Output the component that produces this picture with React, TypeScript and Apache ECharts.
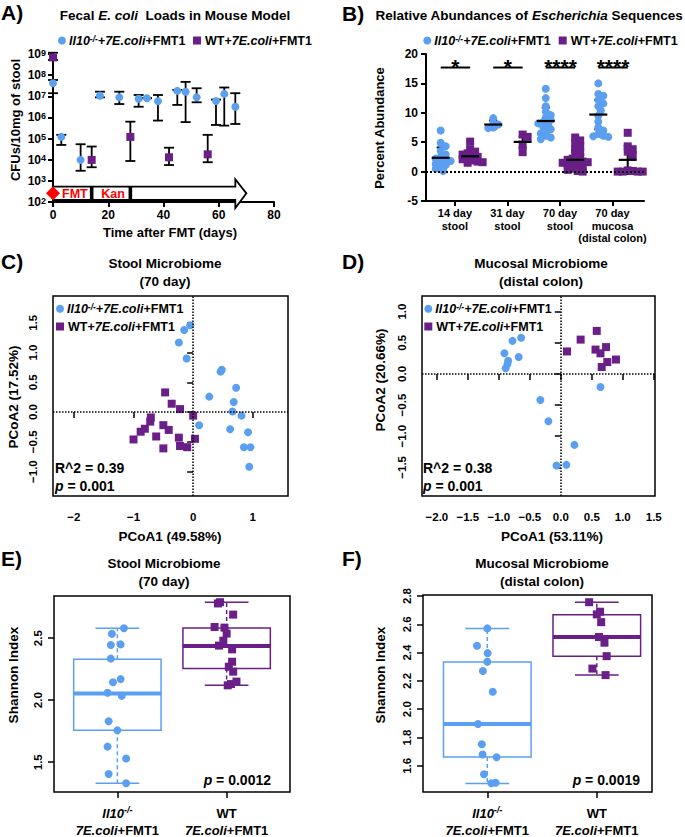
import React, { useEffect, useRef } from 'react';
import * as echarts from 'echarts';

const FONT = '"Liberation Sans", Arial, Helvetica, sans-serif';
const BLUE = '#5b9ff0';
const PURPLE = '#6a1f88';

// ---------- Panel A: fecal E. coli loads (CFU / 10 mg stool) ----------
const aBlueDays = [0, 3, 10, 17, 24, 31, 34, 38, 45, 48, 52, 59, 62, 66];
const aBlueCFU = [4.1e7, 1.2e5, 9.8e3, 1.07e7, 8.9e6, 7.7e6, 8.1e6, 5.8e6, 1.8e7, 1.65e7, 8.9e6, 6.0e6, 1.3e7, 3.2e6];
const aBlueLow = [1.4e7, 5.0e4, 3.0e3, 8.9e6, 4.3e6, 3.2e6, 8.1e6, 7.1e5, 3.9e6, 6.0e5, 5.2e6, 4.4e5, 4.1e5, 4.9e5];
const aBlueHigh = [5.9e7, 1.5e5, 5.4e4, 1.65e7, 1.65e7, 1.15e7, 8.1e6, 1.15e7, 2.0e7, 4.8e7, 2.4e7, 7.0e6, 2.6e7, 1.4e7];
const aPurpleDays = [0, 14, 28, 42, 56];
const aPurpleCFU = [6.9e8, 9.8e3, 1.2e5, 1.3e4, 1.8e4];
const aPurpleLow = [5.2e8, 4.4e3, 8.7e3, 5.6e3, 7.6e3];
const aPurpleHigh = [1.15e9, 4.2e4, 6.3e5, 3.7e4, 1.5e5];
const aFmtDay = 0;
const aKanDays = [14, 28];
const aArrowHeadDay = 66;
const aArrowEndDay = 70;

// ---------- Panel B: relative abundance of Escherichia (%) ----------
const bCategories = ['14 day\nstool', '31 day\nstool', '70 day\nstool', '70 day\nmucosa\n(distal colon)'];
const bBlue = [
  [7.0, 4.9, 4.3, 3.5, 2.9, 2.5, 2.2, 2.0, 1.8, 1.6, 1.3, 1.1, 0.8, 0.5, 0.1],
  [9.1, 8.3, 8.0, 7.5, 7.4],
  [14.1, 12.5, 11.1, 10.2, 9.6, 9.2, 8.8, 8.5, 8.2, 7.9, 7.6, 7.2, 6.9, 6.5, 6.1, 5.8, 5.5],
  [15.0, 13.2, 12.9, 12.2, 11.6, 11.1, 10.4, 9.5, 8.5, 7.5, 7.0, 6.4, 6.1, 6.0, 5.9],
];
const bPurple = [
  [5.1, 3.8, 3.4, 3.1, 2.9, 2.7, 2.5, 2.3, 2.1, 1.9, 1.7, 1.6, 1.5],
  [6.3, 5.9, 4.6, 3.3],
  [5.8, 5.3, 4.8, 4.3, 3.8, 3.3, 2.9, 2.5, 2.2, 2.0, 1.8, 1.6, 1.4, 1.2, 1.0, 0.8, 0.5, 0.3, 0.1, 0.0, 1.5, 1.7],
  [6.6, 4.3, 3.8, 3.4, 2.8, 0.2, 0.1, 0.0, 0.0, 0.0, 0.0],
];
const bBlueMean = [2.35, 8.0, 8.6, 9.7];
const bBlueSD = [1.75, 0.7, 2.3, 2.5];
const bPurpleMean = [2.6, 5.05, 2.0, 2.0];
const bPurpleSD = [1.1, 0.95, 1.7, 2.4];
const bStars = ['*', '*', '****', '****'];
const bStarLevel = 17.7;

// ---------- Panel C: stool PCoA ----------
const cBlue = [
  [-0.05, 1.46], [-0.15, 1.38], [-0.24, 1.17], [-0.11, 0.9], [0.46, 0.68], [0.48, 0.71],
  [0.27, 0.26], [0.72, 0.41], [0.68, 0.17], [0.66, 0.01], [0.81, -0.06], [0.1, -0.22],
  [0.62, -0.29], [0.92, -0.34], [0.85, -0.59], [0.96, -0.59], [0.94, -0.92],
];
const cPurple = [
  [-0.47, 0.33], [-0.36, 0.14], [-0.22, 0.05], [0.0, -0.06], [-0.71, -0.09], [-0.72, -0.16],
  [-0.81, -0.28], [-0.5, -0.22], [-0.41, -0.3], [-0.88, -0.33], [-1.0, -0.46], [-0.62, -0.41],
  [-0.24, -0.43], [0.03, -0.45], [-0.22, -0.57], [-0.1, -0.59], [-0.5, -0.61],
];

// ---------- Panel D: mucosal PCoA ----------
const dBlue = [
  [-0.78, 0.53], [-0.64, 0.58], [-0.91, 0.33], [-0.68, 0.27], [-0.85, 0.21], [-0.86, 0.16],
  [-0.89, 0.09], [0.64, -0.21], [-0.33, -0.42], [-0.2, -0.76], [0.22, -1.14], [0.09, -1.46], [-0.07, -1.47],
];
const dPurple = [
  [0.58, 0.69], [0.32, 0.55], [0.1, 0.36], [0.56, 0.39], [0.73, 0.43], [0.64, 0.33],
  [0.89, 0.23], [0.75, 0.19], [0.66, 0.11],
];

// ---------- Panel E: stool Shannon index ----------
const eBlue = [
  [1.06, 2.58], [0.95, 2.535], [0.94, 2.445], [1.03, 2.45], [0.94, 2.335], [1.03, 2.17], [0.96, 2.145],
  [0.91, 2.06], [1.04, 2.035], [0.92, 1.83], [1.0, 1.757], [0.91, 1.626], [1.08, 1.53], [0.92, 1.405], [1.08, 1.33],
];
const ePurple = [
  [1.92, 2.78], [1.94, 2.79], [2.06, 2.69], [1.89, 2.59], [1.98, 2.585], [2.0, 2.537], [1.97, 2.48],
  [1.93, 2.44], [2.05, 2.41], [2.05, 2.31], [2.02, 2.27], [2.06, 2.23], [2.09, 2.15], [2.01, 2.12], [2.04, 2.13],
];
const eBlueStats = [1.33, 1.757, 2.055, 2.33, 2.58];
const ePurpleStats = [2.12, 2.256, 2.437, 2.582, 2.79];

// ---------- Panel F: mucosal Shannon index ----------
const fBlue = [
  [1.0, 2.571], [0.906, 2.448], [1.003, 2.396], [1.0, 2.335], [0.96, 2.27], [1.05, 2.123], [0.915, 1.895],
  [0.95, 1.752], [0.957, 1.68], [1.085, 1.66], [0.97, 1.54], [1.037, 1.477], [1.076, 1.48],
];
const fPurple = [
  [1.93, 2.756], [2.03, 2.689], [2.0, 2.67], [2.04, 2.615], [2.02, 2.51], [2.07, 2.47], [2.09, 2.375],
  [1.96, 2.287], [2.08, 2.241],
];
const fBlueStats = [1.475, 1.663, 1.895, 2.334, 2.571];
const fPurpleStats = [2.241, 2.375, 2.511, 2.668, 2.756];

// ---------- helpers ----------
const B_OFF_BLUE = -0.27;
const B_OFF_PURPLE = 0.29;
const B_PX_X = 218 / 4.15;
const B_PX_Y = 147 / 25;

function swarm(values: number[], center: number, step: number, minDist: number): number[][] {
  const placed: { dx: number; py: number; v: number }[] = [];
  const sorted = [...values].sort((a, b) => b - a);
  for (const v of sorted) {
    const py = v * B_PX_Y;
    for (let k = 0; k < 80; k++) {
      const dx = (k % 2 === 1 ? 1 : -1) * Math.ceil(k / 2) * step;
      if (placed.every((p) => Math.hypot(p.dx - dx, p.py - py) >= minDist)) {
        placed.push({ dx, py, v });
        break;
      }
    }
  }
  return placed.map((p) => [center + p.dx / B_PX_X, p.v]);
}

const minus = (s: string) => s.replace('-', '\u2212');

const richSet = (size: number) => ({
  b: { fontFamily: FONT, fontWeight: 'bold', fontSize: size, fill: '#000', color: '#000' },
  i: { fontFamily: FONT, fontWeight: 'bold', fontStyle: 'italic', fontSize: size, fill: '#000', color: '#000' },
  s: { fontFamily: FONT, fontWeight: 'bold', fontStyle: 'italic', fontSize: size * 0.68, fill: '#000', color: '#000', verticalAlign: 'top' },
});

const txt = (x: number, y: number, text: string, size: number, o: any = {}) => ({
  type: 'text',
  x,
  y,
  rotation: o.rot || 0,
  z: 100,
  style: {
    text,
    fontFamily: FONT,
    fontWeight: 'bold',
    fontSize: size,
    fill: o.fill || '#000',
    align: o.align || 'center',
    verticalAlign: 'middle',
    rich: o.rich,
  },
});

const blueLegendText = '{i|Il10}{s|-/-}{i|+7E.coli}{b|+FMT1}';
const purpleLegendText = '{b|WT+}{i|7E.coli}{b|+FMT1}';

const legendItems = (cx: number, cy1: number, cy2: number, horizontal: boolean, x2?: number) => {
  const items: any[] = [];
  items.push({ type: 'circle', z: 100, shape: { cx, cy: cy1, r: 4 }, style: { fill: BLUE } });
  items.push(txt(cx + 7, cy1, blueLegendText, 12.5, { align: 'left', rich: richSet(12.5) }));
  const sx = horizontal ? (x2 as number) : cx;
  items.push({ type: 'rect', z: 100, shape: { x: sx - 4, y: cy2 - 4, width: 8, height: 8 }, style: { fill: PURPLE } });
  items.push(txt(sx + 8, cy2, purpleLegendText, 12.5, { align: 'left', rich: richSet(12.5) }));
  return items;
};

const blackLine = (x1: number, y1: number, x2: number, y2: number, w = 2, extra: any = {}) => ({
  type: 'line',
  shape: { x1, y1, x2, y2 },
  style: { stroke: '#000', lineWidth: w, ...extra },
});

const errRender = (params: any, api: any) => {
  const x = api.value(0);
  const lo = api.coord([x, api.value(1)]);
  const hi = api.coord([x, api.value(2)]);
  const w = 5;
  return {
    type: 'group',
    children: [
      blackLine(lo[0], lo[1], hi[0], hi[1], 1.8),
      blackLine(lo[0] - w, lo[1], lo[0] + w, lo[1], 1.8),
      blackLine(hi[0] - w, hi[1], hi[0] + w, hi[1], 1.8),
    ],
  };
};

const timelineRender = (params: any, api: any) => {
  const fmt = api.value(0), k1 = api.value(1), k2 = api.value(2), head = api.value(3), end = api.value(4);
  const base = api.coord([fmt, 2]);
  const x0 = base[0];
  const yb = base[1];
  const yT = yb - 15.3, yB = yb - 2, hT = yb - 22.7, hB = yb + 6, yc = (yT + yB) / 2;
  const xh = api.coord([head, 2])[0];
  const xe = api.coord([end, 2])[0];
  const xk1 = api.coord([k1, 2])[0];
  const xk2 = api.coord([k2, 2])[0];
  const d = 7;
  return {
    type: 'group',
    children: [
      {
        type: 'polygon',
        shape: { points: [[x0, yT], [xh, yT], [xh, hT], [xe, yc], [xh, hB], [xh, yB], [x0, yB]] },
        style: { fill: '#fff', stroke: '#000', lineWidth: 1.8 },
      },
      { type: 'rect', shape: { x: xk1 - 1.8, y: yT, width: 3.6, height: yB - yT }, style: { fill: '#000' } },
      { type: 'rect', shape: { x: xk2 - 1.8, y: yT, width: 3.6, height: yB - yT }, style: { fill: '#000' } },
      {
        type: 'polygon',
        shape: { points: [[x0, yc - d], [x0 + d, yc], [x0, yc + d], [x0 - d, yc]] },
        style: { fill: '#ff0000' },
      },
      {
        type: 'text',
        x: x0 + 9,
        y: yc + 0.5,
        style: { text: 'FMT', fill: '#ff0000', fontFamily: FONT, fontWeight: 'bold', fontSize: 12.5, align: 'left', verticalAlign: 'middle' },
      },
      {
        type: 'text',
        x: (xk1 + xk2) / 2 + 2,
        y: yc + 0.5,
        style: { text: 'Kan', fill: '#ff0000', fontFamily: FONT, fontWeight: 'bold', fontSize: 12.5, align: 'center', verticalAlign: 'middle' },
      },
    ],
  };
};

const sdRender = (params: any, api: any) => {
  const x = api.value(0), m = api.value(1), sd = api.value(2);
  const top = api.coord([x, m + sd]);
  const bot = api.coord([x, m - sd]);
  const w = 4;
  return {
    type: 'group',
    children: [
      blackLine(top[0], top[1], bot[0], bot[1], 2),
      blackLine(top[0] - w, top[1], top[0] + w, top[1], 2),
      blackLine(bot[0] - w, bot[1], bot[0] + w, bot[1], 2),
    ],
  };
};

const meanRender = (params: any, api: any) => {
  const p = api.coord([api.value(0), api.value(1)]);
  return blackLine(p[0] - 9, p[1], p[0] + 9, p[1], 2.2);
};

const starRender = (params: any, api: any) => {
  const x = api.value(0), y = api.value(1);
  const l = api.coord([x + B_OFF_BLUE, y]);
  const r = api.coord([x + B_OFF_PURPLE, y]);
  return {
    type: 'group',
    children: [
      blackLine(l[0], l[1], r[0], r[1], 2),
      {
        type: 'text',
        x: (l[0] + r[0]) / 2,
        y: l[1] - 1,
        style: { text: bStars[params.dataIndex], fill: '#000', fontFamily: FONT, fontWeight: 'bold', fontSize: 21, align: 'center', verticalAlign: 'middle' },
      },
    ],
  };
};

const boxRender = (params: any, api: any) => {
  const pos = api.value(0);
  const lo = api.value(1), q1 = api.value(2), med = api.value(3), q3 = api.value(4), hi = api.value(5);
  const color = api.value(6) === 0 ? BLUE : PURPLE;
  const c = (x: number, y: number) => api.coord([x, y]);
  const tl = c(pos - 0.4, q3), br = c(pos + 0.4, q1);
  const mL = c(pos - 0.4, med), mR = c(pos + 0.4, med);
  const pq3 = c(pos, q3), phi = c(pos, hi), pq1 = c(pos, q1), plo = c(pos, lo);
  const cl = c(pos - 0.2, hi), cr = c(pos + 0.2, hi);
  const dl = c(pos - 0.2, lo), dr = c(pos + 0.2, lo);
  const st = (w: number, dash?: number[]) => ({ stroke: color, lineWidth: w, fill: 'none', lineDash: dash });
  return {
    type: 'group',
    children: [
      { type: 'line', shape: { x1: pq3[0], y1: pq3[1], x2: phi[0], y2: phi[1] }, style: st(1.5, [4, 3]) },
      { type: 'line', shape: { x1: pq1[0], y1: pq1[1], x2: plo[0], y2: plo[1] }, style: st(1.5, [4, 3]) },
      { type: 'line', shape: { x1: cl[0], y1: cl[1], x2: cr[0], y2: cr[1] }, style: st(1.5) },
      { type: 'line', shape: { x1: dl[0], y1: dl[1], x2: dr[0], y2: dr[1] }, style: st(1.5) },
      { type: 'rect', shape: { x: tl[0], y: tl[1], width: br[0] - tl[0], height: br[1] - tl[1] }, style: { stroke: color, lineWidth: 1.5, fill: 'rgba(255,255,255,0)' } },
      { type: 'line', shape: { x1: mL[0], y1: mL[1], x2: mR[0], y2: mR[1] }, style: st(4) },
    ],
  };
};

const textStyle = { fontFamily: FONT, fontWeight: 'bold' as const, color: '#000' };
const blackAxisLine = { show: true, onZero: false, lineStyle: { color: '#000', width: 2 } };
const noSplit = { show: false };

const frameGrid = { show: true, borderColor: '#000', borderWidth: 1.5, backgroundColor: 'rgba(0,0,0,0)' };

const rAxisX = (gridIndex: number, min: number, max: number, ticks: number[], fmt: (v: number) => string, extraLabel: any = {}) => ({
  gridIndex,
  type: 'value',
  min,
  max,
  axisLine: { show: false },
  axisTick: { show: true, customValues: ticks, length: 6, lineStyle: { color: '#000', width: 1.5 } },
  axisLabel: { customValues: ticks, formatter: fmt, ...textStyle, fontSize: 11.5, margin: 15, ...extraLabel },
  splitLine: noSplit,
});

const rAxisY = (gridIndex: number, min: number, max: number, ticks: number[], margin: number) => ({
  gridIndex,
  type: 'value',
  min,
  max,
  axisLine: { show: false },
  axisTick: { show: true, customValues: ticks, length: 6, lineStyle: { color: '#000', width: 1.5 } },
  axisLabel: { customValues: ticks, formatter: (v: number) => minus(v.toFixed(1)), rotate: 90, ...textStyle, fontSize: 11.5, margin },
  splitLine: noSplit,
});

const dotted = (data: any[]) => ({
  silent: true,
  symbol: 'none',
  label: { show: false },
  lineStyle: { type: 'dotted', color: '#000', width: 1.5 },
  data,
});

const groupLabel = (v: number) =>
  Math.round(v) === 1 ? '{i|Il10}{s|-/-}\n{i|7E.coli}{b|+FMT1}' : '{b|WT}\n{i|7E.coli}{b|+FMT1}';
const groupRich = {
  b: { fontFamily: FONT, fontWeight: 'bold', fontSize: 13, color: '#000', lineHeight: 17 },
  i: { fontFamily: FONT, fontWeight: 'bold', fontStyle: 'italic', fontSize: 13, color: '#000', lineHeight: 17 },
  s: { fontFamily: FONT, fontWeight: 'bold', fontStyle: 'italic', fontSize: 9, color: '#000', lineHeight: 17, verticalAlign: 'top' },
};

export default function App() {
  const ref = useRef<HTMLDivElement>(null);
  useEffect(() => {
    if (!ref.current) return;
    document.body.style.margin = '0';
    const chart = echarts.init(ref.current, undefined, { renderer: 'svg' });

    const bBlueData = bBlue.flatMap((vals, i) => swarm(vals, i + B_OFF_BLUE, 2.5, 4.5));
    const bPurpleData = bPurple.flatMap((vals, i) => swarm(vals, i + B_OFF_PURPLE, 2.5, 4.5));
    const bMeans = [
      ...bBlueMean.map((m, i) => [i + B_OFF_BLUE, m, bBlueSD[i]]),
      ...bPurpleMean.map((m, i) => [i + B_OFF_PURPLE, m, bPurpleSD[i]]),
    ];

    const graphics: any[] = [
      txt(1, 12, 'A)', 21, { align: 'left' }),
      txt(342, 13, 'B)', 21, { align: 'left' }),
      txt(1, 261, 'C)', 21, { align: 'left' }),
      txt(342, 261, 'D)', 21, { align: 'left' }),
      txt(1, 558, 'E)', 21, { align: 'left' }),
      txt(342, 558, 'F)', 21, { align: 'left' }),
      txt(175, 15, '{b|Fecal }{i|E. coli}{b|  Loads in Mouse Model}', 13.5, { rich: richSet(13.5) }),
      txt(529, 15, '{b|Relative Abundances of }{i|Escherichia}{b| Sequences}', 13.5, { rich: richSet(13.5) }),
      txt(165, 263, 'Stool Microbiome', 13.5),
      txt(165, 281, '(70 day)', 13.5),
      txt(541, 263, 'Mucosal Microbiome', 13.5),
      txt(541, 281, '(distal colon)', 13.5),
      txt(164, 563, 'Stool Microbiome', 13.5),
      txt(164, 581, '(70 day)', 13.5),
      txt(542, 563, 'Mucosal Microbiome', 13.5),
      txt(542, 581, '(distal colon)', 13.5),
      txt(170, 232, 'Time after FMT (days)', 13),
      txt(15, 120, 'CFUs/10mg of stool', 13, { rot: Math.PI / 2 }),
      txt(379, 128, 'Percent Abundance', 13, { rot: Math.PI / 2 }),
      txt(170, 536, 'PCoA1 (49.58%)', 13.5),
      txt(13, 397, 'PCoA2 (17.52%)', 13.5, { rot: Math.PI / 2 }),
      txt(552, 536, 'PCoA1 (53.11%)', 13.5),
      txt(380, 380, 'PCoA2 (20.66%)', 13.5, { rot: Math.PI / 2 }),
      txt(13, 675, 'Shannon Index', 13.5, { rot: Math.PI / 2 }),
      txt(380, 675, 'Shannon Index', 13.5, { rot: Math.PI / 2 }),
      txt(55, 468, 'R^2 = 0.39', 14, { align: 'left' }),
      txt(55, 486, '{i|p}{b| = 0.001}', 14, { align: 'left', rich: richSet(14) }),
      txt(423, 468, 'R^2 = 0.38', 14, { align: 'left' }),
      txt(423, 486, '{i|p}{b| = 0.001}', 14, { align: 'left', rich: richSet(14) }),
      txt(271, 780, '{i|p}{b| = 0.0012}', 14, { align: 'right', rich: richSet(14) }),
      txt(640, 780, '{i|p}{b| = 0.0019}', 14, { align: 'right', rich: richSet(14) }),
      ...legendItems(62, 40.5, 40.5, true, 197),
      ...legendItems(427.3, 40.5, 40.5, true, 562.7),
      ...legendItems(60, 308.7, 326.5, false),
      ...legendItems(428.3, 308.7, 326.5, false),
    ];

    const option: any = {
      animation: false,
      backgroundColor: '#fff',
      textStyle: { fontFamily: FONT },
      grid: [
        { left: 53, top: 54, width: 221, height: 148 },
        { left: 426, top: 54, width: 218, height: 147 },
        { left: 53, top: 296, width: 235, height: 200, ...frameGrid },
        { left: 422, top: 296, width: 233, height: 200, ...frameGrid },
        { left: 54, top: 596, width: 236, height: 200, ...frameGrid },
        { left: 423, top: 595, width: 229, height: 201, ...frameGrid },
      ],
      xAxis: [
        {
          gridIndex: 0, type: 'value', min: 0, max: 80, interval: 20,
          axisLine: blackAxisLine,
          axisTick: { show: true, length: 5, lineStyle: { color: '#000', width: 2 } },
          axisLabel: { ...textStyle, fontSize: 12, margin: 7 },
          splitLine: noSplit,
        },
        {
          gridIndex: 1, type: 'value', min: -0.55, max: 3.6,
          axisLine: blackAxisLine,
          axisTick: { show: true, customValues: [0, 1, 2, 3], length: 5, lineStyle: { color: '#000', width: 2 } },
          axisLabel: {
            customValues: [0, 1, 2, 3],
            formatter: (v: number) => bCategories[Math.round(v)],
            ...textStyle, fontSize: 11, lineHeight: 12.5, margin: 6,
          },
          splitLine: noSplit,
        },
        rAxisX(2, -2.35, 1.59, [-2, -1, 0, 1], (v) => minus(String(v))),
        rAxisX(3, -2.24, 1.52, [-2, -1.5, -1, -0.5, 0, 0.5, 1, 1.5], (v) => minus(v.toFixed(1))),
        rAxisX(4, 0.42, 2.58, [1, 2], groupLabel, { rich: groupRich, margin: 13 }),
        rAxisX(5, 0.413, 2.504, [1, 2], groupLabel, { rich: groupRich, margin: 13 }),
      ],
      yAxis: [
        {
          gridIndex: 0, type: 'value', min: 2, max: 9, interval: 1,
          axisLine: blackAxisLine,
          axisTick: { show: true, length: 5, lineStyle: { color: '#000', width: 2 } },
          axisLabel: {
            formatter: (v: number) => `{b|10}{s|${v}}`,
            margin: 7,
            rich: {
              b: { fontFamily: FONT, fontWeight: 'bold', fontSize: 12, color: '#000' },
              s: { fontFamily: FONT, fontWeight: 'bold', fontSize: 9, color: '#000', verticalAlign: 'top' },
            },
          },
          splitLine: noSplit,
        },
        {
          gridIndex: 1, type: 'value', min: -5, max: 20, interval: 5,
          axisLine: blackAxisLine,
          axisTick: { show: true, length: 5, lineStyle: { color: '#000', width: 2 } },
          axisLabel: { ...textStyle, fontSize: 12, margin: 8 },
          splitLine: noSplit,
        },
        rAxisY(2, -1.41, 1.95, [-1, -0.5, 0, 0.5, 1, 1.5], 14),
        rAxisY(3, -1.96, 1.25, [-1.5, -1, -0.5, 0, 0.5, 1], 14),
        rAxisY(4, 1.26, 2.84, [1.5, 2, 2.5], 10),
        rAxisY(5, 1.415, 2.807, [1.6, 1.8, 2, 2.2, 2.4, 2.6, 2.8], 10),
      ],
      series: [
        // ---- A ----
        {
          type: 'custom', xAxisIndex: 0, yAxisIndex: 0, z: 1, clip: false,
          renderItem: errRender,
          data: aBlueDays.map((d, i) => [d, Math.log10(aBlueLow[i]), Math.log10(aBlueHigh[i])]),
        },
        {
          type: 'custom', xAxisIndex: 0, yAxisIndex: 0, z: 1, clip: false,
          renderItem: errRender,
          data: aPurpleDays.map((d, i) => [d, Math.log10(aPurpleLow[i]), Math.log10(aPurpleHigh[i])]),
        },
        {
          type: 'custom', xAxisIndex: 0, yAxisIndex: 0, z: 5, clip: false,
          renderItem: timelineRender,
          data: [[aFmtDay, aKanDays[0], aKanDays[1], aArrowHeadDay, aArrowEndDay]],
        },
        {
          type: 'scatter', xAxisIndex: 0, yAxisIndex: 0, z: 3, symbol: 'circle', symbolSize: 8,
          itemStyle: { color: BLUE, opacity: 1 },
          data: aBlueDays.map((d, i) => [d, Math.log10(aBlueCFU[i])]),
        },
        {
          type: 'scatter', xAxisIndex: 0, yAxisIndex: 0, z: 3, symbol: 'rect', symbolSize: 8,
          itemStyle: { color: PURPLE, opacity: 1 },
          data: aPurpleDays.map((d, i) => [d, Math.log10(aPurpleCFU[i])]),
        },
        // ---- B ----
        {
          type: 'custom', xAxisIndex: 1, yAxisIndex: 1, z: 1, clip: false,
          renderItem: sdRender,
          data: bMeans,
        },
        {
          type: 'scatter', xAxisIndex: 1, yAxisIndex: 1, z: 2, symbol: 'circle', symbolSize: 8,
          itemStyle: { color: BLUE, opacity: 1 },
          data: bBlueData,
          markLine: { ...dotted([{ yAxis: 0 }]), lineStyle: { type: 'dotted', color: '#000', width: 2 } },
        },
        {
          type: 'scatter', xAxisIndex: 1, yAxisIndex: 1, z: 2, symbol: 'rect', symbolSize: 8,
          itemStyle: { color: PURPLE, opacity: 1 },
          data: bPurpleData,
        },
        {
          type: 'custom', xAxisIndex: 1, yAxisIndex: 1, z: 4, clip: false,
          renderItem: meanRender,
          data: bMeans,
        },
        {
          type: 'custom', xAxisIndex: 1, yAxisIndex: 1, z: 4, clip: false,
          renderItem: starRender,
          data: bStars.map((s, i) => [i, bStarLevel]),
        },
        // ---- C ----
        {
          type: 'scatter', xAxisIndex: 2, yAxisIndex: 2, symbol: 'circle', symbolSize: 8,
          itemStyle: { color: BLUE, opacity: 1 }, data: cBlue,
          markLine: dotted([{ xAxis: 0 }, { yAxis: 0 }]),
        },
        {
          type: 'scatter', xAxisIndex: 2, yAxisIndex: 2, symbol: 'rect', symbolSize: 8,
          itemStyle: { color: PURPLE, opacity: 1 }, data: cPurple,
        },
        // ---- D ----
        {
          type: 'scatter', xAxisIndex: 3, yAxisIndex: 3, symbol: 'circle', symbolSize: 8,
          itemStyle: { color: BLUE, opacity: 1 }, data: dBlue,
          markLine: dotted([{ xAxis: 0 }, { yAxis: 0 }]),
        },
        {
          type: 'scatter', xAxisIndex: 3, yAxisIndex: 3, symbol: 'rect', symbolSize: 8,
          itemStyle: { color: PURPLE, opacity: 1 }, data: dPurple,
        },
        // ---- E ----
        {
          type: 'custom', xAxisIndex: 4, yAxisIndex: 4, z: 1, clip: false,
          renderItem: boxRender,
          data: [[1, ...eBlueStats, 0], [2, ...ePurpleStats, 1]],
        },
        {
          type: 'scatter', xAxisIndex: 4, yAxisIndex: 4, z: 3, symbol: 'circle', symbolSize: 8,
          itemStyle: { color: BLUE, opacity: 1 }, data: eBlue,
        },
        {
          type: 'scatter', xAxisIndex: 4, yAxisIndex: 4, z: 3, symbol: 'rect', symbolSize: 8,
          itemStyle: { color: PURPLE, opacity: 1 }, data: ePurple,
        },
        // ---- F ----
        {
          type: 'custom', xAxisIndex: 5, yAxisIndex: 5, z: 1, clip: false,
          renderItem: boxRender,
          data: [[1, ...fBlueStats, 0], [2, ...fPurpleStats, 1]],
        },
        {
          type: 'scatter', xAxisIndex: 5, yAxisIndex: 5, z: 3, symbol: 'circle', symbolSize: 8,
          itemStyle: { color: BLUE, opacity: 1 }, data: fBlue,
        },
        {
          type: 'scatter', xAxisIndex: 5, yAxisIndex: 5, z: 3, symbol: 'rect', symbolSize: 8,
          itemStyle: { color: PURPLE, opacity: 1 }, data: fPurple,
        },
      ],
      graphic: graphics,
    };
    chart.setOption(option);
    return () => chart.dispose();
  }, []);
  return <div ref={ref} style={{ position: 'absolute', left: 0, top: 0, width: 685, height: 837 }} />;
}
